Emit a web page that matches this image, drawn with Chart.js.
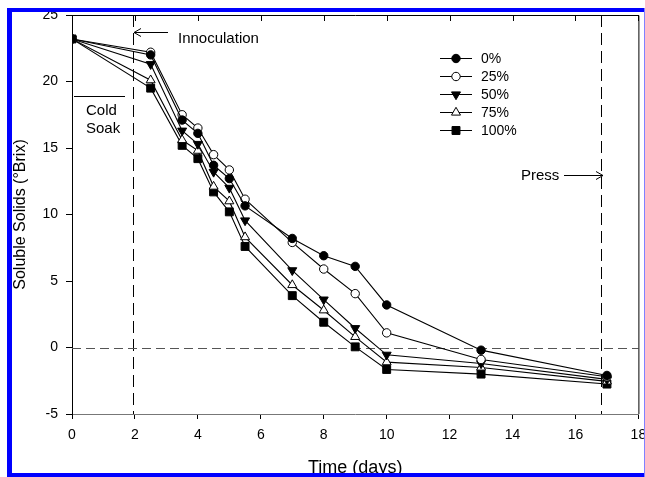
<!DOCTYPE html>
<html><head><meta charset="utf-8">
<script src="https://cdn.jsdelivr.net/npm/chart.js@4/dist/chart.umd.min.js"></script>
<style>html,body{margin:0;padding:0;background:#fff;}#wrap{width:645px;height:477px;position:relative;}</style>
</head><body><div id="wrap"><canvas id="c" width="645" height="477"></canvas></div>
<script>
const days = [0, 2.5, 3.5, 4, 4.5, 5, 5.5, 7, 8, 9, 10, 13, 17];
const seriesLabels = ['0%', '25%', '50%', '75%', '100%'];
const pct0   = [23.2, 22.0, 17.1, 16.1, 13.7, 12.7, 10.65, 8.2, 6.9, 6.1, 3.2, -0.2, -2.1];
const pct25  = [23.2, 22.2, 17.5, 16.5, 14.5, 13.35, 11.15, 7.9, 5.9, 4.05, 1.1, -0.9, -2.2];
const pct50  = [23.2, 21.3, 16.3, 15.3, 13.2, 12.0, 9.55, 5.8, 3.6, 1.45, -0.55, -1.2, -2.4];
const pct75  = [23.2, 20.1, 15.6, 14.8, 12.1, 11.0, 8.3, 4.7, 2.8, 0.8, -1.1, -1.5, -2.55];
const pct100 = [23.2, 19.5, 15.2, 14.2, 11.7, 10.2, 7.6, 3.9, 1.9, 0.05, -1.65, -2.0, -2.75];
const xTicks = [0, 2, 4, 6, 8, 10, 12, 14, 16, 18];
const yTicks = [-5, 0, 5, 10, 15, 20, 25];
const innoculationDay = 1.95;
const pressDay = 16.82;
const zeroLevel = 0;

const FONT = "'Liberation Sans', Arial, Helvetica, sans-serif";
const allSeries = [pct0, pct25, pct50, pct75, pct100];
const markerStyles = [
  {pointStyle: 'circle', bg: '#000', r: 4.2, rot: 0},
  {pointStyle: 'circle', bg: '#fff', r: 4.2, rot: 0},
  {pointStyle: 'triangle', bg: '#000', r: 5.2, rot: 180},
  {pointStyle: 'triangle', bg: '#fff', r: 5.2, rot: 0},
  {pointStyle: 'rect', bg: '#000', r: 5.6, rot: 0}
];

const datasets = allSeries.map((vals, i) => ({
  label: seriesLabels[i],
  data: days.map((d, j) => ({x: d, y: vals[j]})),
  borderColor: '#000',
  borderWidth: 1.1,
  backgroundColor: markerStyles[i].bg,
  pointBackgroundColor: markerStyles[i].bg,
  pointBorderColor: '#000',
  pointBorderWidth: 1,
  pointRadius: markerStyles[i].r,
  pointStyle: markerStyles[i].pointStyle,
  pointRotation: markerStyles[i].rot,
  tension: 0,
  fill: false
}));

const decor = {
  id: 'decor',
  beforeDatasetsDraw(chart) {
    const {ctx, chartArea: a, scales: {x, y}} = chart;
    ctx.save();
    ctx.strokeStyle = '#000';
    ctx.lineWidth = 1;
    ctx.setLineDash([12, 6]);
    [innoculationDay, pressDay].forEach(d => {
      const px = Math.round(x.getPixelForValue(d)) + 0.5;
      ctx.beginPath(); ctx.moveTo(px, a.top); ctx.lineTo(px, a.bottom); ctx.stroke();
    });
    ctx.strokeStyle = '#555';
    ctx.setLineDash([9, 5]);
    const py = Math.round(y.getPixelForValue(zeroLevel)) + 0.5;
    ctx.beginPath(); ctx.moveTo(a.left, py); ctx.lineTo(a.right, py); ctx.stroke();
    ctx.setLineDash([]);
    ctx.strokeStyle = '#000';
    ctx.beginPath();
    ctx.moveTo(a.left, a.top + 0.5); ctx.lineTo(a.right + 0.5, a.top + 0.5); ctx.lineTo(a.right + 0.5, a.bottom);
    ctx.stroke();
    xTicks.forEach(t => {
      const px = Math.round(x.getPixelForValue(t)) + 0.5;
      ctx.beginPath(); ctx.moveTo(px, a.top); ctx.lineTo(px, a.top + 6); ctx.stroke();
    });
    ctx.restore();
  },
  afterDraw(chart) {
    const {ctx} = chart;
    ctx.save();
    ctx.fillStyle = '#000';
    ctx.strokeStyle = '#000';
    ctx.lineWidth = 1;
    ctx.font = '15px ' + FONT;
    ctx.textBaseline = 'middle';
    ctx.textAlign = 'left';
    ctx.fillText('Innoculation', 178, 39);
    ctx.beginPath(); ctx.moveTo(134, 32.5); ctx.lineTo(168, 32.5); ctx.stroke();
    ctx.beginPath(); ctx.moveTo(141, 28.5); ctx.lineTo(134, 32.5); ctx.lineTo(141, 36.5); ctx.stroke();
    ctx.beginPath(); ctx.moveTo(74, 96.5); ctx.lineTo(125, 96.5); ctx.stroke();
    ctx.fillText('Cold', 86, 111);
    ctx.fillText('Soak', 86, 129);
    ctx.fillText('Press', 521, 176);
    ctx.beginPath(); ctx.moveTo(564, 175.5); ctx.lineTo(603, 175.5); ctx.stroke();
    ctx.beginPath(); ctx.moveTo(596, 171.5); ctx.lineTo(603, 175.5); ctx.lineTo(596, 179.5); ctx.stroke();
    ctx.font = '14px ' + FONT;
    seriesLabels.forEach((lab, i) => {
      const ly = 58 + i * 18;
      ctx.strokeStyle = '#000';
      ctx.beginPath(); ctx.moveTo(440, ly + 0.5); ctx.lineTo(472, ly + 0.5); ctx.stroke();
      ctx.fillStyle = markerStyles[i].bg;
      Chart.helpers.drawPoint(ctx, {pointStyle: markerStyles[i].pointStyle, radius: markerStyles[i].r, rotation: markerStyles[i].rot, borderWidth: 1}, 456, ly + 0.5);
      ctx.fillStyle = '#000';
      ctx.fillText(lab, 481, ly + 1);
    });
    ctx.fillStyle = '#0000ff';
    ctx.fillRect(7, 8, 5, 469);
    ctx.fillRect(7, 8, 638, 4);
    ctx.fillRect(7, 473, 638, 4);
    ctx.fillStyle = '#8080ff';
    ctx.fillRect(644, 8, 1, 469);
    ctx.restore();
  }
};

new Chart(document.getElementById('c'), {
  type: 'line',
  data: {datasets},
  options: {
    responsive: false,
    animation: false,
    devicePixelRatio: 1,
    layout: {padding: {top: 15, right: 3, left: 0, bottom: 0}},
    plugins: {legend: {display: false}, tooltip: {enabled: false}},
    scales: {
      x: {
        type: 'linear', min: 0, max: 18,
        afterBuildTicks: s => { s.ticks = xTicks.map(v => ({value: v})); },
        afterFit: s => { s.height = 63; s.paddingLeft = 0; s.paddingRight = 0; },
        ticks: {color: '#000', font: {family: FONT, size: 14}, padding: 8, maxRotation: 0, autoSkip: false},
        grid: {drawOnChartArea: false, drawTicks: true, tickLength: 5, color: '#000'},
        border: {color: '#777', width: 1},
        title: {display: true, text: 'Time (days)', color: '#000', font: {family: FONT, size: 18, lineHeight: 1}, padding: {top: 0, bottom: 0}}
      },
      y: {
        type: 'linear', min: -5, max: 25,
        afterBuildTicks: s => { s.ticks = yTicks.map(v => ({value: v})); },
        afterFit: s => { s.width = 72; s.paddingTop = 0; s.paddingBottom = 0; },
        ticks: {color: '#000', font: {family: FONT, size: 14}, padding: 8, autoSkip: false},
        grid: {drawOnChartArea: false, drawTicks: true, tickLength: 6, color: '#000'},
        border: {color: '#000', width: 1},
        title: {display: true, text: 'Soluble Solids (°Brix)', color: '#000', font: {family: FONT, size: 16, lineHeight: 1}, padding: {top: 13, bottom: 0}}
      }
    }
  },
  plugins: [decor]
});
</script></body></html>
